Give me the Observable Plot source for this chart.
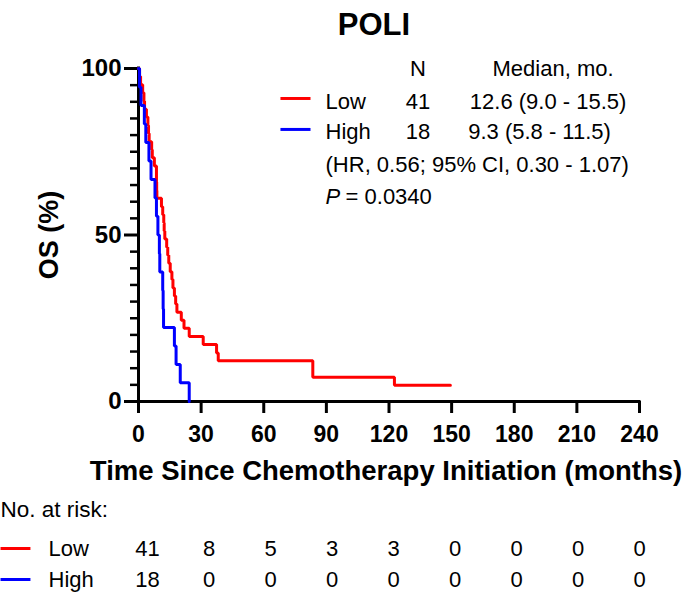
<!DOCTYPE html>
<html>
<head>
<meta charset="utf-8">
<script src="https://cdn.jsdelivr.net/npm/d3@7"></script>
<script src="https://cdn.jsdelivr.net/npm/@observablehq/plot@0.6"></script>
<style>
  html, body { margin: 0; padding: 0; background: #fff; }
  #wrap { width: 685px; height: 593px; position: relative; font-family: "Liberation Sans", Arial, sans-serif; color: #000; }
  #title { height: 55px; position: relative; }
  #title span { position: absolute; left: 374px; top: 9px; transform: translateX(-50%); font-size: 31px; font-weight: bold; line-height: 31px; }
  svg { display: block; }
</style>
</head>
<body>
<div id="wrap">
  <div id="title"><span>POLI</span></div>
  <div id="main"></div>
  <div id="risk"></div>
</div>
<script>
// ---- data ----
const groups = ["Low", "High"];
const groupN = [41, 18];
const groupMedian = ["12.6 (9.0 - 15.5)", "9.3 (5.8 - 11.5)"];
const hrText = "(HR, 0.56; 95% CI, 0.30 - 1.07)";
const pLabel = "P";
const pValue = "= 0.0340";
const medianHeader = "Median, mo.";
const nHeader = "N";

// Kaplan-Meier step points (months, OS %)
const lowTime = [0, 0.5, 1.0, 2.0, 2.6, 2.9, 3.8, 4.5, 4.8, 5.1, 6.3, 6.6, 7.6, 8.6, 8.7, 8.8,
  11.0, 11.6, 12.1, 12.3, 12.6, 13.5, 14.0, 14.5, 15.2, 16.0, 16.5, 17.2, 17.8, 18.4, 20.5, 21.8,
  24.3, 31.0, 37.4, 38.2, 83.5, 122.6, 149.4];
const lowSurv = [100, 97.6, 95.1, 92.7, 90.2, 87.8, 85.4, 82.9, 80.5, 78.0, 75.6, 73.2, 70.7, 65.9, 63.4, 61.0,
  58.5, 56.1, 53.7, 51.2, 48.8, 46.3, 43.9, 41.5, 39.0, 36.6, 34.1, 31.7, 29.3, 26.8, 24.4, 22.0,
  19.5, 17.1, 14.6, 12.2, 7.3, 4.9, 4.9];
const highTime = [0, 0.5, 1.2, 2.8, 3.5, 5.0, 6.0, 7.9, 8.6, 9.3, 10.0, 10.2, 11.6, 11.8, 12.0, 17.2, 18.0, 20.0, 24.3];
const highSurv = [100, 94.4, 88.9, 83.3, 77.8, 72.2, 66.7, 61.1, 55.6, 50.0, 44.4, 38.9, 33.3, 27.8, 22.2, 16.7, 11.1, 5.6, 0];

const xTicks = [0, 30, 60, 90, 120, 150, 180, 210, 240];
const yMajorTicks = [0, 50, 100];
const yMinorTicks = [5, 10, 15, 20, 25, 30, 35, 40, 45, 55, 60, 65, 70, 75, 80, 85, 90, 95];

const riskTitle = "No. at risk:";
const riskLow = [41, 8, 5, 3, 3, 0, 0, 0, 0];
const riskHigh = [18, 0, 0, 0, 0, 0, 0, 0, 0];

// ---- derived tables ----
const curves = [
  ...lowTime.map((t, i) => ({group: "Low", t, s: lowSurv[i]})),
  ...highTime.map((t, i) => ({group: "High", t, s: highSurv[i]}))
];
const legendRows = groups.map((g, i) => ({group: g, n: groupN[i], median: groupMedian[i]}));
const riskRows = [riskLow, riskHigh];
const riskData = groups.flatMap((g, gi) => xTicks.map((t, i) => ({group: g, t, n: riskRows[gi][i]})));

const FONT = "Liberation Sans, Arial, sans-serif";
const colorScale = {domain: groups, range: ["#ff0000", "#0000ff"]};

// legend layout (in data units of the chart)
const legendRowY = [90.1, 80.8];
const medianX = [196.2, 192.1];

const main = Plot.plot({
  width: 685, height: 435,
  marginTop: 13, marginLeft: 138, marginRight: 46, marginBottom: 89,
  style: {fontFamily: FONT, background: "white", color: "black", overflow: "visible"},
  x: {domain: [0, 240]},
  y: {domain: [0, 100]},
  color: colorScale,
  marks: [
    Plot.axisY(yMinorTicks, {tickSize: 8, strokeWidth: 2.5, tickFormat: () => "", label: null}),
    Plot.axisY(yMajorTicks, {tickSize: 14, strokeWidth: 3, tickPadding: 3, fontSize: 24, fontWeight: "bold", label: null}),
    Plot.axisX(xTicks, {tickSize: 12, strokeWidth: 3, tickPadding: 12, fontSize: 23, fontWeight: "bold", label: null}),
    Plot.ruleY([0], {stroke: "black", strokeWidth: 3, strokeLinecap: "square"}),
    Plot.ruleX([0], {stroke: "black", strokeWidth: 3, strokeLinecap: "square"}),
    Plot.line(curves, {x: "t", y: "s", z: "group", stroke: "group", curve: "step-after", strokeWidth: 3, strokeLinejoin: "miter"}),
    // axis titles
    Plot.text(["OS (%)"], {frameAnchor: "left", dx: -89, rotate: -90, textAnchor: "middle", fontSize: 27, fontWeight: "bold"}),
    Plot.text(["Time Since Chemotherapy Initiation (months)"], {frameAnchor: "bottom", dx: -3, dy: 78, textAnchor: "middle", fontSize: 27.5, fontWeight: "bold"}),
    // legend
    Plot.text([nHeader], {x: 133.9, y: 100, fontSize: 22}),
    Plot.text([medianHeader], {x: 198.6, y: 100, fontSize: 22}),
    Plot.link(legendRows, {x1: 68.0, x2: 82.4, y1: (d, i) => legendRowY[i] + 0.9, y2: (d, i) => legendRowY[i] + 0.9, stroke: "group", strokeWidth: 3}),
    Plot.text(legendRows, {x: 89.6, y: (d, i) => legendRowY[i], text: "group", textAnchor: "start", fontSize: 22}),
    Plot.text(legendRows, {x: 133.9, y: (d, i) => legendRowY[i], text: "n", fontSize: 22}),
    Plot.text(legendRows, {x: (d, i) => medianX[i], y: (d, i) => legendRowY[i], text: "median", fontSize: 22}),
    Plot.text([hrText], {x: 89.6, y: 70.9, textAnchor: "start", fontSize: 22}),
    Plot.text([pLabel], {x: 89.6, y: 61.3, textAnchor: "start", fontSize: 22, fontStyle: "italic"}),
    Plot.text([pValue], {x: 99.2, y: 61.3, textAnchor: "start", fontSize: 22})
  ]
});
document.getElementById("main").appendChild(main);

const risk = Plot.plot({
  width: 685, height: 103,
  marginTop: 0, marginBottom: 0, marginLeft: 147, marginRight: 46,
  style: {fontFamily: FONT, background: "white", color: "black", overflow: "visible"},
  x: {domain: [0, 240], axis: null},
  y: {type: "point", domain: groups, range: [58, 89], padding: 0, axis: null},
  color: colorScale,
  marks: [
    Plot.text([riskTitle], {frameAnchor: "top-left", dx: -147, dy: 19, textAnchor: "start", lineAnchor: "middle", fontSize: 22.5}),
    Plot.link(groups, {x1: -71.7, x2: -57.1, y1: d => d, y2: d => d, stroke: d => d, strokeWidth: 3}),
    Plot.text(groups, {frameAnchor: "left", y: d => d, dx: -99, textAnchor: "start", fontSize: 22}),
    Plot.text(riskData, {x: "t", y: "group", text: "n", fontSize: 22})
  ]
});
document.getElementById("risk").appendChild(risk);
</script>
</body>
</html>
